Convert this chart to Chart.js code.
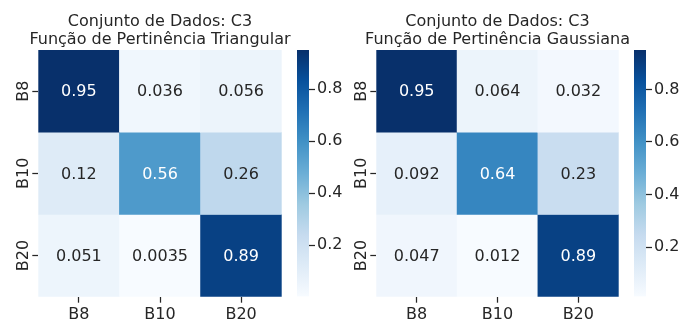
<!DOCTYPE html>
<html>
<head>
<meta charset="utf-8">
<script src="https://cdn.jsdelivr.net/npm/chart.js@4/dist/chart.umd.min.js"></script>
<style>
  html, body { margin: 0; padding: 0; background: #ffffff; }
  #figure { position: relative; width: 694px; height: 322px; overflow: hidden; background: #ffffff; }
  #figure canvas { position: absolute; top: 0; }
</style>
</head>
<body>
<div id="figure">
  <canvas id="heatTriangular" width="320" height="322" style="left:0px"></canvas>
  <canvas id="barTriangular" width="60" height="322" style="left:297px"></canvas>
  <canvas id="heatGaussian" width="319" height="322" style="left:338px"></canvas>
  <canvas id="barGaussian" width="60" height="322" style="left:634px"></canvas>
</div>
<script>
// Class labels shared by both confusion matrices (rows = true, columns = predicted)
const classes = ['B8', 'B10', 'B20'];

const titleDataset = 'Conjunto de Dados: C3';
const titleTriangular = 'Função de Pertinência Triangular';
const titleGaussian = 'Função de Pertinência Gaussiana';

// Normalised confusion matrices, one row per true class
const triangularValues = [
  [0.95, 0.036, 0.056],
  [0.12, 0.56, 0.26],
  [0.051, 0.0035, 0.89]
];
const gaussianValues = [
  [0.95, 0.064, 0.032],
  [0.092, 0.64, 0.23],
  [0.047, 0.012, 0.89]
];

// Colour bar tick values
const colorbarTicks = [0.2, 0.4, 0.6, 0.8];

// "Blues" sequential colour map
const bluesStops = ['#f7fbff', '#deebf7', '#c6dbef', '#9ecae1', '#6baed6',
                    '#4292c6', '#2171b5', '#08519c', '#08306b'];

const INK = '#262626';
const FONT = "'DejaVu Sans', sans-serif";

function hexToRgb(h) {
  return [parseInt(h.slice(1, 3), 16), parseInt(h.slice(3, 5), 16), parseInt(h.slice(5, 7), 16)];
}
const bluesRgb = bluesStops.map(hexToRgb);

function blues(t) {
  t = Math.max(0, Math.min(1, t));
  const pos = t * (bluesRgb.length - 1);
  const i = Math.min(Math.floor(pos), bluesRgb.length - 2);
  const f = pos - i;
  const a = bluesRgb[i], b = bluesRgb[i + 1];
  return a.map((c, k) => Math.round(c + (b[k] - c) * f));
}
const rgbCss = c => `rgb(${c[0]},${c[1]},${c[2]})`;

function luminance(rgb) {
  const lin = rgb.map(c => {
    c /= 255;
    return c <= 0.03928 ? c / 12.92 : Math.pow((c + 0.055) / 1.055, 2.4);
  });
  return 0.2126 * lin[0] + 0.7152 * lin[1] + 0.0722 * lin[2];
}

// Two significant digits, like a "g" format
const fmt = v => String(Number(v.toPrecision(2)));

// Writes each cell's value in its centre, light text on dark cells
const cellLabels = {
  id: 'cellLabels',
  afterDatasetsDraw(chart) {
    const ctx = chart.ctx;
    ctx.save();
    ctx.font = `16px ${FONT}`;
    ctx.textAlign = 'center';
    ctx.textBaseline = 'middle';
    chart.data.datasets.forEach((ds, r) => {
      const meta = chart.getDatasetMeta(r);
      meta.data.forEach((bar, c) => {
        const v = ds.values[c];
        const rgb = blues((v - ds.vmin) / (ds.vmax - ds.vmin));
        ctx.fillStyle = luminance(rgb) > 0.408 ? INK : '#ffffff';
        ctx.fillText(fmt(v), bar.x, (bar.y + bar.base) / 2 + 1);
      });
    });
    ctx.restore();
  }
};

function heatChart(id, matrix, subtitle, frame) {
  const flat = matrix.flat();
  const vmin = Math.min(...flat), vmax = Math.max(...flat);
  const datasets = matrix.map((row, r) => ({
    data: row.map(() => [r, r + 1]),
    values: row,
    vmin, vmax,
    backgroundColor: row.map(v => rgbCss(blues((v - vmin) / (vmax - vmin)))),
    borderWidth: 0,
    barPercentage: 1,
    categoryPercentage: 1,
    grouped: false
  }));
  const tickFont = { family: FONT, size: 16 };
  return new Chart(document.getElementById(id), {
    type: 'bar',
    data: { labels: classes, datasets },
    options: {
      responsive: false,
      devicePixelRatio: 1,
      animation: false,
      events: [],
      layout: { padding: 0 },
      plugins: {
        legend: { display: false },
        tooltip: { enabled: false },
        title: {
          display: true,
          text: [titleDataset, subtitle],
          color: INK,
          font: { family: FONT, size: 16, weight: 'normal', lineHeight: 1.125 },
          padding: { top: 12.5, bottom: 1.5 }
        }
      },
      scales: {
        x: {
          type: 'category',
          offset: true,
          border: { display: false },
          grid: { offset: false, drawOnChartArea: false, drawTicks: true, tickLength: 6, tickWidth: 1.25, tickColor: INK },
          ticks: { color: INK, font: tickFont, padding: 3, maxRotation: 0 },
          afterFit(s) { s.height = frame.xAxisHeight; }
        },
        y: {
          type: 'linear',
          min: 0,
          max: classes.length,
          reverse: true,
          border: { display: false },
          grid: { drawOnChartArea: false, drawTicks: true, tickLength: 6, tickWidth: 1.25, tickColor: INK },
          afterBuildTicks(s) { s.ticks = classes.map((_, i) => ({ value: i + 0.5 })); },
          ticks: {
            color: INK, font: tickFont,
            minRotation: 90, maxRotation: 90,
            crossAlign: 'center',
            padding: -7,
            callback: (v, i) => classes[i]
          },
          afterFit(s) { s.width = frame.yAxisWidth; }
        },
        // blank right-hand margin keeps the grid centred under the title
        margin: {
          type: 'linear',
          axis: 'y',
          position: 'right',
          border: { display: false },
          grid: { display: false },
          ticks: { display: false },
          afterFit(s) { s.width = frame.rightMargin; }
        }
      }
    },
    plugins: [cellLabels]
  });
}

function colorbarChart(id, matrix, frame) {
  const flat = matrix.flat();
  const vmin = Math.min(...flat), vmax = Math.max(...flat);
  return new Chart(document.getElementById(id), {
    type: 'bar',
    data: {
      labels: [''],
      datasets: [{
        data: [[vmin, vmax]],
        borderWidth: 0,
        barPercentage: 1,
        categoryPercentage: 1,
        backgroundColor(ctx) {
          const y = ctx.chart.scales.y;
          const y0 = y ? y.getPixelForValue(vmin) : NaN;
          const y1 = y ? y.getPixelForValue(vmax) : NaN;
          if (!isFinite(y0) || !isFinite(y1) || y0 === y1) return bluesStops[4];
          const g = ctx.chart.ctx.createLinearGradient(0, y0, 0, y1);
          bluesStops.forEach((c, i) => g.addColorStop(i / (bluesStops.length - 1), c));
          return g;
        }
      }]
    },
    options: {
      responsive: false,
      devicePixelRatio: 1,
      animation: false,
      events: [],
      layout: { padding: { left: 0, right: 0, top: frame.top, bottom: frame.bottom } },
      plugins: { legend: { display: false }, tooltip: { enabled: false } },
      scales: {
        x: { display: false, offset: true },
        y: {
          position: 'right',
          min: vmin,
          max: vmax,
          border: { display: false },
          grid: { drawOnChartArea: false, drawTicks: true, tickLength: 6, tickWidth: 1.25, tickColor: INK },
          afterBuildTicks(s) { s.ticks = colorbarTicks.map(v => ({ value: v })); },
          ticks: { color: INK, font: { family: FONT, size: 16 }, padding: 2, callback: v => v.toFixed(1) },
          afterFit(s) { s.width = frame.axisWidth; }
        }
      }
    }
  });
}

// Heat maps: left axis and right margin are equal so the title centres over the grid
const heatFrame = { yAxisWidth: 38.3, rightMargin: 38.3, xAxisHeight: 25.3 };
const heatFrameRight = { yAxisWidth: 38.3, rightMargin: 38.3, xAxisHeight: 25.3 };
const barFrame = { top: 50, bottom: 25.5, axisWidth: 48 };

heatChart('heatTriangular', triangularValues, titleTriangular, heatFrame);
colorbarChart('barTriangular', triangularValues, barFrame);
heatChart('heatGaussian', gaussianValues, titleGaussian, heatFrameRight);
colorbarChart('barGaussian', gaussianValues, barFrame);
</script>
</body>
</html>
